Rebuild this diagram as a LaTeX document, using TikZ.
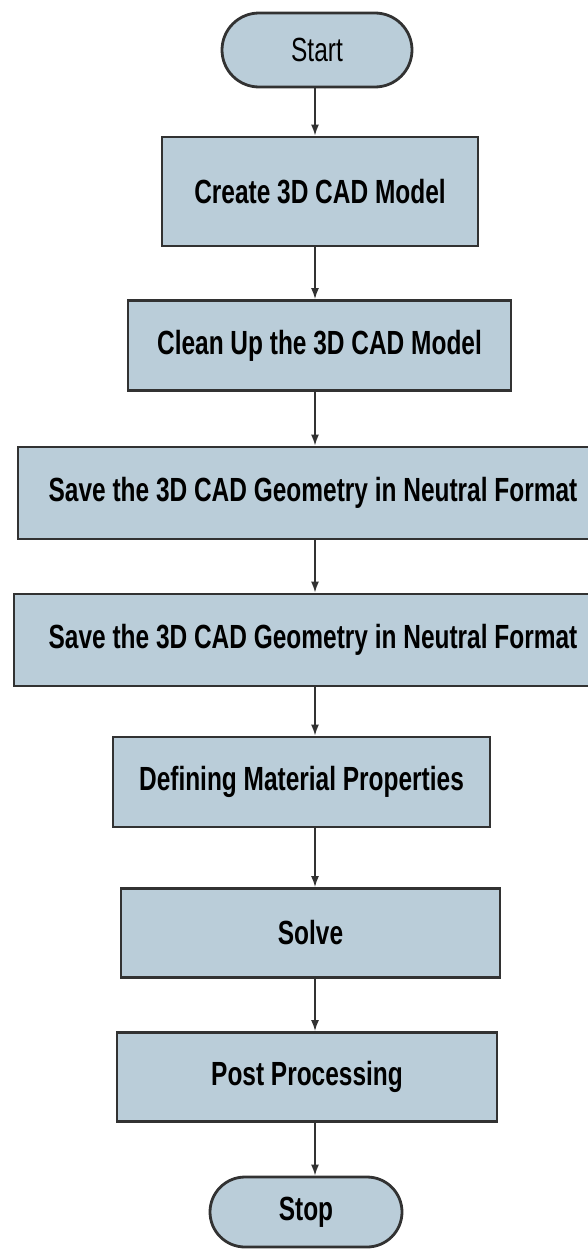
\documentclass[tikz,border=0pt]{standalone}
\usepackage{fontspec}
\newfontfamily\flowfont[FakeStretch=0.73]{Liberation Sans}
\usetikzlibrary{arrows.meta,shapes.misc}
\definecolor{boxfill}{RGB}{186,205,217}
\definecolor{boxline}{RGB}{50,50,50}
\tikzset{
  procbox/.style={draw=boxline, line width=2.8pt, fill=boxfill, inner sep=0pt,
    font=\flowfont\fontsize{33.5}{40}\selectfont\bfseries},
  termbox/.style={rounded rectangle, draw=boxline, line width=2.8pt, fill=boxfill, inner sep=0pt,
    font=\flowfont\fontsize{33.5}{40}\selectfont},
  arr/.style={-{Latex[length=11pt,width=8pt]}, line width=1.6pt, draw=boxline}
}
\begin{document}
\begin{tikzpicture}[x=1pt, y=-1pt]
  \useasboundingbox (0,0) rectangle (587,1250);
  \coordinate (spine) at (315,0);
  % terminals and steps
  \node[termbox, minimum width=190pt, minimum height=74pt] (start) at (317,50) {Start};
  \node[procbox, minimum width=316pt, minimum height=109pt] (create) at (320,191.5) {Create 3D CAD Model};
  \node[procbox, minimum width=383pt, minimum height=90pt] (clean) at (319.5,345.5) {Clean Up the 3D CAD Model};
  \node[procbox, minimum width=590pt, minimum height=92pt] (save1) at (313,493) {Save the 3D CAD Geometry in Neutral Format};
  \node[procbox, minimum width=598pt, minimum height=92pt] (save2) at (313,640) {Save the 3D CAD Geometry in Neutral Format};
  \node[procbox, minimum width=377pt, minimum height=90pt] (material) at (301.5,782) {Defining Material Properties};
  \node[procbox, minimum width=379pt, minimum height=89pt] (solve) at (310.5,933) {Solve};
  \node[procbox, minimum width=380pt, minimum height=89pt] (post) at (307,1077) {Post Processing};
  \node[termbox, minimum width=192pt, minimum height=70pt, font=\flowfont\fontsize{33.5}{40}\selectfont\bfseries] (stop) at (306,1212) {Stop};
  % connectors
  \foreach \a/\b in {start/create, create/clean, clean/save1, save1/save2, save2/material, material/solve, solve/post, post/stop}
    \draw[arr] (\a.south -| spine) -- (\b.north -| spine);
\end{tikzpicture}
\end{document}
